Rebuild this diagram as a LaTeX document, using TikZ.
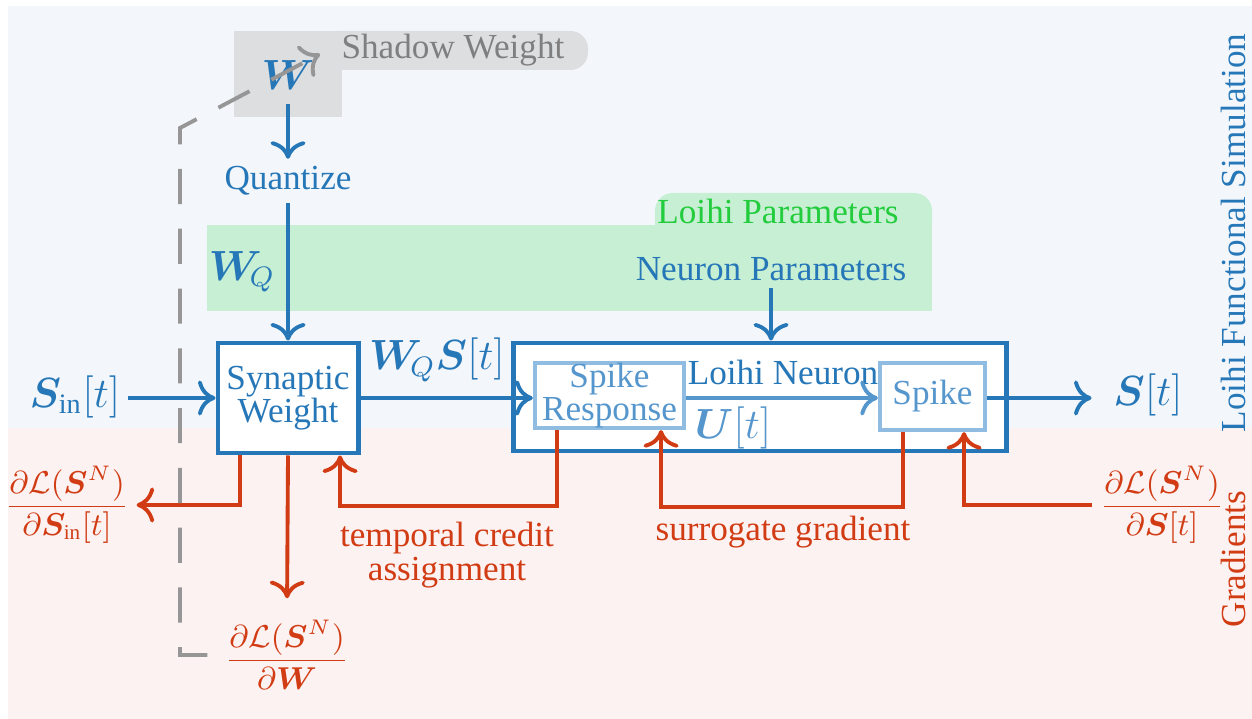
\documentclass[tikz,border=0pt]{standalone}
\usepackage{amsmath,bm}
\usepackage{fontspec}
\setmainfont{Liberation Serif}
\usetikzlibrary{arrows.meta}
\definecolor{simblue}{RGB}{38,119,184}
\definecolor{lightblue}{RGB}{143,188,224}
\definecolor{midblue}{RGB}{85,150,205}
\definecolor{gradred}{RGB}{210,60,20}
\definecolor{bgblue}{RGB}{243,247,251}
\definecolor{bgred}{RGB}{252,242,241}
\definecolor{parfill}{RGB}{198,239,211}
\definecolor{partext}{RGB}{34,204,60}
\definecolor{shadowfill}{RGB}{220,222,224}
\definecolor{shadowtext}{RGB}{127,127,127}
\definecolor{shadowline}{RGB}{150,150,150}
\tikzset{
  lbl/.style={inner sep=2pt, font=\fontsize{10}{9.5}\selectfont, align=center},
  mlbl/.style={lbl, font=\large},
  glbl/.style={lbl, text=gradred, font=\fontsize{9}{10}\selectfont},
  block/.style={draw=simblue, line width=1.4pt, fill=white, inner sep=0pt},
  subblock/.style={draw=lightblue, line width=1.2pt, fill=white, inner sep=0pt},
  tip/.style={-{To[length=5pt,width=10pt]}},
  fwd/.style={draw=simblue, line width=1.1pt, tip},
  fwdlight/.style={draw=midblue, line width=1.1pt, tip},
  bwd/.style={draw=gradred, line width=1.1pt, tip},
  shadow/.style={draw=shadowline, line width=1.1pt, dash pattern=on 10pt off 7pt, tip}
}
\begin{document}
\begin{tikzpicture}[x=0.01cm, y=-0.01cm]
\useasboundingbox (0,0) rectangle (1252,719);
% regions
\fill[bgblue] (8,6) rectangle (1252,428);
\fill[bgred] (8,428) rectangle (1252,719);
% shadow weight panel
\fill[shadowfill, rounded corners=5pt] (320,31) rectangle (588,70);
\fill[shadowfill] (234,31) rectangle (342,117);
\node[lbl, text=shadowtext, font=\fontsize{10}{12}\selectfont] (shw) at (453,50) {Shadow Weight};
% loihi parameters panel
\fill[parfill, rounded corners=5pt] (655,193) rectangle (932,240);
\fill[parfill] (207,225) rectangle (932,311);
\node[lbl, text=partext] (lp) at (778,211) {Loihi Parameters};

% nodes
\node[mlbl, text=simblue] (w) at (288,75) {$\boldsymbol{W}$};
\node[lbl, text=simblue] (quant) at (288,181) {Quantize};
\node[mlbl, text=simblue] (wq) at (242,272) {$\boldsymbol{W}_{\!Q}$};
\node[lbl, text=simblue] (np) at (771,269) {Neuron Parameters};
\node[block, minimum width=1.40cm, minimum height=1.10cm] (syn) at (288,398) {};
\node[lbl, text=simblue] at (syn) {Synaptic\\Weight};
\node[block, minimum width=4.92cm, minimum height=1.08cm] (neuron) at (760,397) {};
\node[subblock, minimum width=1.49cm, minimum height=0.65cm] (sr) at (609.5,395.5) {};
\node[lbl, text=midblue] at (sr) {Spike\\Response};
\node[subblock, minimum width=1.05cm, minimum height=0.67cm] (spk) at (932.5,396.5) {};
\node[lbl, text=midblue] at (spk) {Spike};
\node[lbl, text=simblue] (ln) at (783,372) {Loihi Neuron};
\node[mlbl, text=midblue] (u) at (733,428) {$\boldsymbol{U}[t]$};
\node[mlbl, text=simblue] (sin) at (75,397) {$\boldsymbol{S}_{\text{in}}[t]$};
\node[mlbl, text=simblue] (wqs) at (437,360) {$\boldsymbol{W}_{\!Q}\boldsymbol{S}[t]$};
\node[mlbl, text=simblue] (out) at (1148,395) {$\boldsymbol{S}[t]$};

% gradient labels
\node[glbl] (gin) at (67,505) {$\dfrac{\partial\mathcal{L}(\boldsymbol{S}^N)}{\partial\boldsymbol{S}_{\text{in}}[t]}$};
\node[glbl] (gw) at (287,655) {$\dfrac{\partial\mathcal{L}(\boldsymbol{S}^N)}{\partial\boldsymbol{W}}$};
\node[glbl] (gs) at (1162,505) {$\dfrac{\partial\mathcal{L}(\boldsymbol{S}^N)}{\partial\boldsymbol{S}[t]}$};
\node[lbl, text=gradred] (tca) at (447,555) {temporal credit\\assignment};
\node[lbl, text=gradred] (sg) at (783,532) {surrogate gradient};

% side titles
\node[lbl, text=simblue, rotate=90] (simtitle) at (1233,233) {Loihi Functional Simulation};
\node[lbl, text=gradred, rotate=90] (gradtitle) at (1233,559) {Gradients};

% forward path
\draw[fwd, shorten <=2pt] (w) -- (quant);
\draw[fwd] (quant) -- (syn);
\draw[fwd] (np) -- (np |- neuron.north);
\draw[fwd] (sin.east |- syn.west) -- (syn.west);
\draw[fwd] (syn.east) -- (syn.east -| sr.west);
\draw[fwdlight] (sr.east |- syn.east) -- (spk.west |- syn.east);
\draw[fwd, shorten >=4pt] (spk.east |- syn.east) -- (out.west |- syn.east);

% backward path
\draw[bwd] ([xshift=-0.48cm]syn.south) |- (gin.east);
\draw[bwd, shorten >=4pt] (syn.south) -- (gw.north);
\draw[bwd] ([xshift=-0.525cm]sr.south) -- ++(0,76) -| ([xshift=0.52cm]syn.south);
\draw[bwd] ([xshift=-0.295cm]spk.south) -- ++(0,75) -| ([xshift=0.515cm]sr.south);
\draw[bwd] (gs.west) -| ([xshift=0.315cm]spk.south);

% shadow weight update
\coordinate (dc1) at (180,655);
\coordinate (dc2) at (180,128);
\coordinate (dtip) at (320,54);
\draw[shadow] ([xshift=-0.1cm]gw.west) -- (dc1) -- (dc2) -- (dtip);
\end{tikzpicture}
\end{document}
